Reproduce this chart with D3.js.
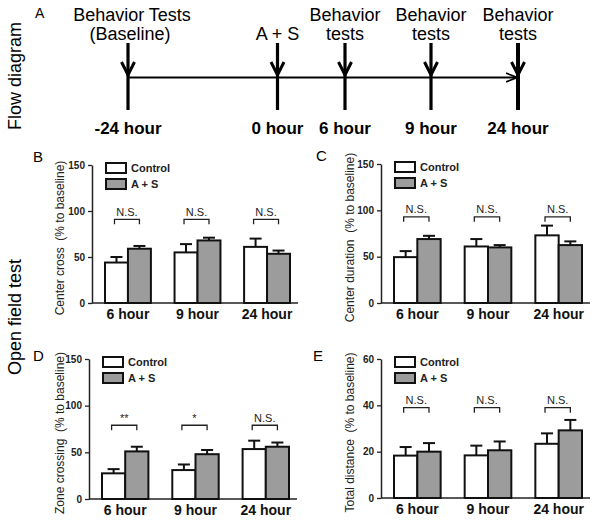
<!DOCTYPE html>
<html><head><meta charset="utf-8">
<script src="https://cdn.jsdelivr.net/npm/d3@7"></script>
<style>
body{margin:0;background:#fff;}
svg{font-family:Arial,"Liberation Sans",sans-serif;}
</style></head>
<body><svg id="chart" width="600" height="531"></svg>
<script>
// ---------- DATA ----------
const categories = ["6 hour", "9 hour", "24 hour"];
const seriesNames = ["Control", "A + S"];

const centerCrossControl = [44, 55, 61];
const centerCrossControlErr = [6, 9, 9];
const centerCrossAS = [59, 68, 53.5];
const centerCrossASErr = [3, 3, 3.5];

const centerDurationControl = [49.5, 61, 73];
const centerDurationControlErr = [6.5, 8, 10.5];
const centerDurationAS = [69, 60, 62.5];
const centerDurationASErr = [3.5, 2.5, 4];

const zoneCrossingControl = [27.5, 31, 53.5];
const zoneCrossingControlErr = [4.5, 6, 9];
const zoneCrossingAS = [51, 48, 56];
const zoneCrossingASErr = [5, 4.5, 4.5];

const totalDistanceControl = [18.3, 18.4, 23.4];
const totalDistanceControlErr = [3.7, 4.2, 4.5];
const totalDistanceAS = [20, 20.6, 29.2];
const totalDistanceASErr = [3.7, 3.8, 4.5];

const sigB = ["N.S.", "N.S.", "N.S."];
const sigC = ["N.S.", "N.S.", "N.S."];
const sigD = ["**", "*", "N.S."];
const sigE = ["N.S.", "N.S.", "N.S."];
const bracketLevels = [91, 93, 79, 39];

const ticks150 = [0, 50, 100, 150];
const ticks60 = [0, 20, 40, 60];

const timepoints = ["-24 hour", "0 hour", "6 hour", "9 hour", "24 hour"];
const topLabelLine1 = ["Behavior Tests", "", "Behavior", "Behavior", "Behavior"];
const topLabelLine2 = ["(Baseline)", "A + S", "tests", "tests", "tests"];

// ---------- LAYOUT ----------
const svg = d3.select("#chart");
const FILL = ["#ffffff", "#9c9c9c"];

// Flow diagram
const tx = d3.scaleOrdinal().domain(timepoints).range([128, 277.5, 345, 431, 518]);
const flow = svg.append("g");
flow.append("text").text("A").attr("x", 35).attr("y", 18).attr("font-size", 14);
flow.append("text").text("Flow diagram")
  .attr("transform", "translate(21,76) rotate(-90)")
  .attr("text-anchor", "middle").attr("font-size", 18);

flow.append("defs").append("marker").attr("id", "harr")
  .attr("viewBox", "0 0 10 10").attr("refX", 9).attr("refY", 5)
  .attr("markerWidth", 5).attr("markerHeight", 5).attr("orient", "auto")
  .append("path").attr("d", "M0,1 L10,5 L0,9").attr("fill", "none").attr("stroke", "#000").attr("stroke-width", 1.5);

flow.append("line").attr("x1", tx(timepoints[0])).attr("x2", tx(timepoints[4]) - 2)
  .attr("y1", 77.5).attr("y2", 77.5).attr("stroke", "#000").attr("stroke-width", 2.2)
  .attr("marker-end", "url(#harr)");

timepoints.forEach((t, i) => {
  const x = tx(t);
  flow.append("line").attr("x1", x).attr("x2", x).attr("y1", 43).attr("y2", 110)
    .attr("stroke", "#000").attr("stroke-width", i === 4 ? 4 : 3.2);
  flow.append("path").attr("d", `M${x-6.5},62 L${x},75 L${x+6.5},62`)
    .attr("fill", "none").attr("stroke", "#000").attr("stroke-width", 3);
  flow.append("text").text(t).attr("x", x).attr("y", 134)
    .attr("text-anchor", "middle").attr("font-size", 17).attr("font-weight", "bold");
  if (topLabelLine1[i]) flow.append("text").text(topLabelLine1[i]).attr("x", x + (i===0?4:0)).attr("y", 21)
    .attr("text-anchor", "middle").attr("font-size", 18);
  flow.append("text").text(topLabelLine2[i]).attr("x", x + (i===0?2:0)).attr("y", 40)
    .attr("text-anchor", "middle").attr("font-size", 18);
});

svg.append("text").text("Open field test")
  .attr("transform", "translate(21,317) rotate(-90)")
  .attr("text-anchor", "middle").attr("font-size", 18);

// Panels
const panels = [
  {letter: "B", title: "Center cross  (% to baseline)", ctrl: centerCrossControl, ctrlErr: centerCrossControlErr,
   as: centerCrossAS, asErr: centerCrossASErr, sig: sigB, bracket: bracketLevels[0], ticks: ticks150,
   left: 92, right: 298, top: 165, bottom: 303, titleX: 64, letterX: 33, letterY: 162},
  {letter: "C", title: "Center duration  (% to baseline)", ctrl: centerDurationControl, ctrlErr: centerDurationControlErr,
   as: centerDurationAS, asErr: centerDurationASErr, sig: sigC, bracket: bracketLevels[1], ticks: ticks150,
   left: 381, right: 590, top: 164, bottom: 303, titleX: 354, letterX: 316, letterY: 161},
  {letter: "D", title: "Zone crossing  (% to baseline)", ctrl: zoneCrossingControl, ctrlErr: zoneCrossingControlErr,
   as: zoneCrossingAS, asErr: zoneCrossingASErr, sig: sigD, bracket: bracketLevels[2], ticks: ticks150,
   left: 89, right: 297, top: 359, bottom: 499, titleX: 64, letterX: 33, letterY: 361},
  {letter: "E", title: "Total distance  (% to baseline)", ctrl: totalDistanceControl, ctrlErr: totalDistanceControlErr,
   as: totalDistanceAS, asErr: totalDistanceASErr, sig: sigE, bracket: bracketLevels[3], ticks: ticks60,
   left: 381, right: 590, top: 359, bottom: 498, titleX: 354, letterX: 313, letterY: 361}
];

panels.forEach(p => {
  const g = svg.append("g");
  const y = d3.scaleLinear().domain([0, d3.max(p.ticks)]).range([p.bottom, p.top]);
  const x = d3.scaleBand().domain(categories).range([p.left + 13, p.right - 8]).paddingInner(0.34).paddingOuter(0);
  const xs = d3.scaleBand().domain(seriesNames).range([0, x.bandwidth()]).padding(0);

  // y axis
  const ya = g.append("g").attr("transform", `translate(${p.left},0)`)
    .call(d3.axisLeft(y).tickValues(p.ticks).tickSize(4).tickSizeOuter(0).tickPadding(3));
  ya.select(".domain").attr("stroke", "#222").attr("stroke-width", 1.5);
  ya.selectAll(".tick line").attr("stroke", "#222").attr("stroke-width", 1.3);
  ya.selectAll("text").attr("font-size", 10).attr("font-weight", "bold").attr("fill", "#222")
    .attr("font-family", "Arial, Liberation Sans, sans-serif");

  // x axis
  const xa = g.append("g").attr("transform", `translate(0,${p.bottom})`)
    .call(d3.axisBottom(d3.scaleBand().domain(categories).range([p.left + 13, p.right - 8]).paddingInner(0.34).paddingOuter(0))
      .tickSize(0).tickPadding(6));
  xa.select(".domain").remove();
  xa.selectAll("text").attr("font-size", 14).attr("font-weight", "bold").attr("fill", "#111")
    .attr("font-family", "Arial, Liberation Sans, sans-serif");
  g.append("line").attr("x1", p.left).attr("x2", p.right).attr("y1", p.bottom).attr("y2", p.bottom)
    .attr("stroke", "#222").attr("stroke-width", 1.5);

  const rows = [];
  categories.forEach((c, i) => {
    rows.push({cat: c, s: seriesNames[0], v: p.ctrl[i], e: p.ctrlErr[i]});
    rows.push({cat: c, s: seriesNames[1], v: p.as[i], e: p.asErr[i]});
  });

  // error bars (upper only)
  rows.forEach(r => {
    const cx = x(r.cat) + xs(r.s) + xs.bandwidth() / 2;
    g.append("line").attr("x1", cx).attr("x2", cx).attr("y1", y(r.v)).attr("y2", y(r.v + r.e))
      .attr("stroke", "#111").attr("stroke-width", 2);
    g.append("line").attr("x1", cx - 6).attr("x2", cx + 6).attr("y1", y(r.v + r.e)).attr("y2", y(r.v + r.e))
      .attr("stroke", "#111").attr("stroke-width", 2);
  });

  // bars
  g.selectAll("rect.bar").data(rows).join("rect").attr("class", "bar")
    .attr("x", d => x(d.cat) + xs(d.s))
    .attr("width", xs.bandwidth())
    .attr("y", d => y(d.v))
    .attr("height", d => y(0) - y(d.v))
    .attr("fill", d => FILL[seriesNames.indexOf(d.s)])
    .attr("stroke", "#111").attr("stroke-width", 2);

  // significance brackets
  categories.forEach((c, i) => {
    const x1 = x(c) + xs(seriesNames[0]) + xs.bandwidth() / 2 - 2;
    const x2 = x(c) + xs(seriesNames[1]) + xs.bandwidth() / 2;
    const yb = y(p.bracket);
    g.append("path").attr("d", `M${x1},${yb + 5} L${x1},${yb} L${x2},${yb} L${x2},${yb + 5}`)
      .attr("fill", "none").attr("stroke", "#222").attr("stroke-width", 1.3);
    g.append("text").text(p.sig[i]).attr("x", (x1 + x2) / 2).attr("y", yb - 3.5)
      .attr("text-anchor", "middle").attr("font-size", 11).attr("fill", "#222");
  });

  // legend
  const lx = x(categories[0]) + 1;
  seriesNames.forEach((s, i) => {
    const ly = p.top - 2 + i * 16;
    g.append("rect").attr("x", lx).attr("y", ly).attr("width", 20).attr("height", 10)
      .attr("fill", FILL[i]).attr("stroke", "#111").attr("stroke-width", 2);
    g.append("text").text(s).attr("x", lx + 25).attr("y", ly + 9)
      .attr("font-size", 11).attr("font-weight", "bold").attr("fill", "#222");
  });

  // y title
  g.append("text").text(p.title)
    .attr("transform", `translate(${p.titleX},${(p.top + p.bottom) / 2 + 4}) rotate(-90)`)
    .attr("text-anchor", "middle").attr("font-size", 12).attr("fill", "#222")
    .style("white-space", "pre");

  // panel letter
  g.append("text").text(p.letter).attr("x", p.letterX).attr("y", p.letterY).attr("font-size", 15);
});
</script></body></html>
